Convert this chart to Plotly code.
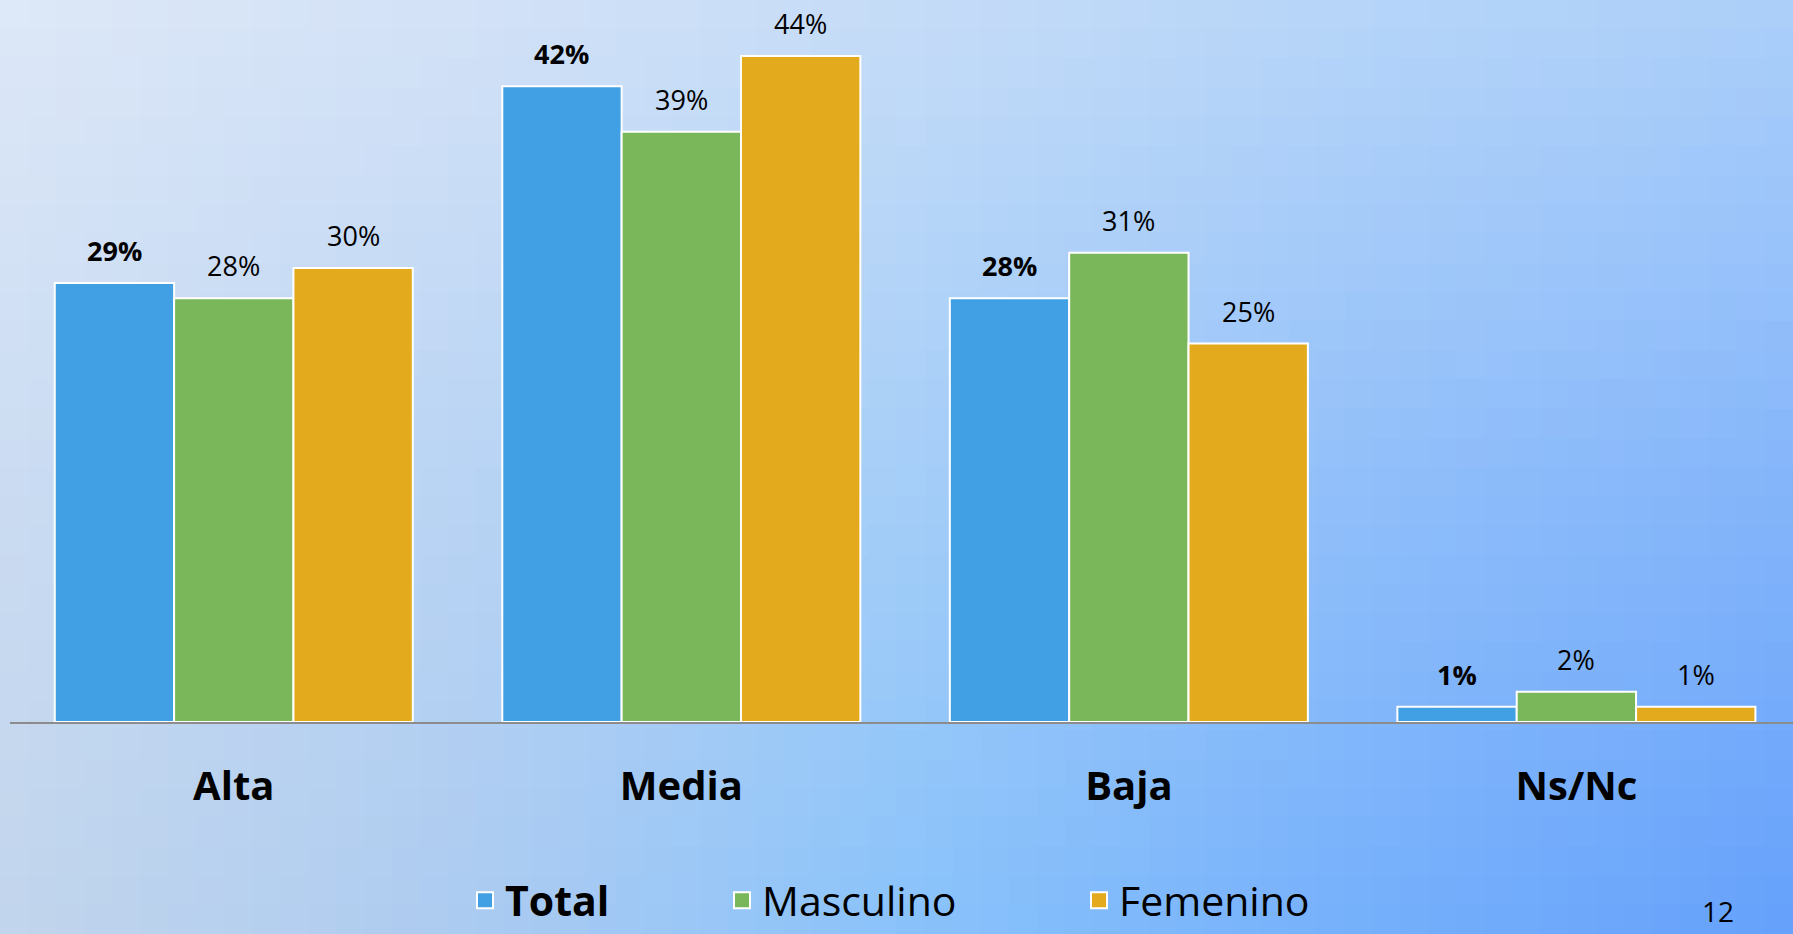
import base64
import struct
import zlib
import plotly.graph_objects as go

# ---------------- data ----------------
categories = ["Alta", "Media", "Baja", "Ns/Nc"]
total = [29, 42, 28, 1]
masculino = [28, 39, 31, 2]
femenino = [30, 44, 25, 1]
series_names = ["Total", "Masculino", "Femenino"]
page_number = "12"

# ---------------- style ----------------
W, H = 1793, 934
colors = ["#419FE3", "#79B75A", "#E2AA1C"]
FONT = "Open Sans"
X_LEFT_PX = 10
PLOT_BOTTOM_PX = 722
Y_MAX = 47.7
X_RANGE = [-0.5, 3.484]
BARGAP = 0.2

# background gradient samples (decoration only)
bg_rows = [
    [(221, 232, 248), (211, 226, 247), (197, 220, 248), (182, 213, 249), (171, 207, 250)],
    [(203, 220, 242), (185, 212, 244), (165, 206, 248), (145, 191, 250), (132, 181, 251)],
    [(193, 213, 236), (172, 203, 241), (136, 194, 251), (116, 175, 252), (99, 160, 251)],
]


def png_data_uri(rows):
    h = len(rows)
    w = len(rows[0])
    raw = b"".join(b"\x00" + bytes([c for px in row for c in px]) for row in rows)

    def chunk(t, d):
        c = struct.pack(">I", len(d)) + t + d
        return c + struct.pack(">I", zlib.crc32(t + d) & 0xFFFFFFFF)

    png = (b"\x89PNG\r\n\x1a\n"
           + chunk(b"IHDR", struct.pack(">IIBBBBB", w, h, 8, 2, 0, 0, 0))
           + chunk(b"IDAT", zlib.compress(raw))
           + chunk(b"IEND", b""))
    return "data:image/png;base64," + base64.b64encode(png).decode()


fig = go.Figure()

values = [total, masculino, femenino]
for name, vals, col in zip(series_names, values, colors):
    fig.add_trace(go.Bar(
        x=categories, y=vals, name=name,
        marker=dict(color=col, line=dict(color="white", width=2)),
        showlegend=False, hoverinfo="skip",
    ))

# legend proxies (one legend per entry for exact placement)
legend_ids = ["legend", "legend2", "legend3"]
for name, col, lid in zip(series_names, colors, legend_ids):
    label = f"<b>{name}</b>" if name == "Total" else name
    fig.add_trace(go.Scatter(
        x=[None], y=[None], mode="markers", name=label, legend=lid,
        marker=dict(symbol="square", size=16, color=col, line=dict(color="white", width=2)),
        showlegend=True, hoverinfo="skip",
    ))

# data labels as annotations anchored to data coordinates
plot_w = W - X_LEFT_PX
cat_px = plot_w / (X_RANGE[1] - X_RANGE[0])
bar_px = cat_px * (1 - BARGAP) / 3
annotations = []
for j, (name, vals) in enumerate(zip(series_names, values)):
    for cat, v in zip(categories, vals):
        txt = f"<b>{v}%</b>" if name == "Total" else f"{v}%"
        annotations.append(dict(
            x=cat, y=v, xref="x", yref="y", text=txt, showarrow=False,
            xshift=(j - 1) * bar_px, yshift=12, yanchor="bottom", xanchor="center",
            font=dict(family=FONT, size=27, color="black"),
        ))

annotations.append(dict(
    x=1718 / W, y=0, xref="paper", yref="paper", text=page_number,
    showarrow=False, xanchor="center", yanchor="bottom", yshift=2,
    font=dict(family=FONT, size=28, color="black"),
))

legend_common = dict(
    orientation="h", yref="container", xref="container", yanchor="bottom", xanchor="left",
    bgcolor="rgba(0,0,0,0)", borderwidth=0, font=dict(family=FONT, size=41, color="black"),
    itemclick=False, itemdoubleclick=False,
)
legend_y = 0.0

fig.update_layout(
    width=W, height=H,
    margin=dict(l=0, r=0, t=0, b=0, autoexpand=False),
    paper_bgcolor="#a9cbf5",
    plot_bgcolor="rgba(0,0,0,0)",
    barmode="group", bargap=BARGAP, bargroupgap=0,
    font=dict(family=FONT, color="black"),
    xaxis=dict(
        domain=[X_LEFT_PX / W, 1], range=X_RANGE, type="category",
        showline=True, linecolor="#8c8c8c", linewidth=2, ticks="",
        showgrid=False, zeroline=False,
        tickfont=dict(family=FONT, size=40, color="black", weight="bold"),
        ticklabelstandoff=28, fixedrange=True,
    ),
    yaxis=dict(
        domain=[(H - PLOT_BOTTOM_PX) / H, 1], range=[0, Y_MAX],
        visible=False, showgrid=False, zeroline=False, fixedrange=True,
    ),
    legend=dict(legend_common, x=465 / W, y=legend_y),
    legend2=dict(legend_common, x=722 / W, y=legend_y),
    legend3=dict(legend_common, x=1079 / W, y=legend_y),
    annotations=annotations,
    images=[dict(
        source=png_data_uri(bg_rows), xref="paper", yref="paper",
        x=-0.5 / 4, y=1 + 0.5 / 2, sizex=5 / 4, sizey=3 / 2,
        xanchor="left", yanchor="top", sizing="stretch", layer="below",
    )],
)

fig.write_html("out.html", config={"displayModeBar": False},
               post_script="document.body.style.margin='0';document.body.style.overflow='hidden';")
